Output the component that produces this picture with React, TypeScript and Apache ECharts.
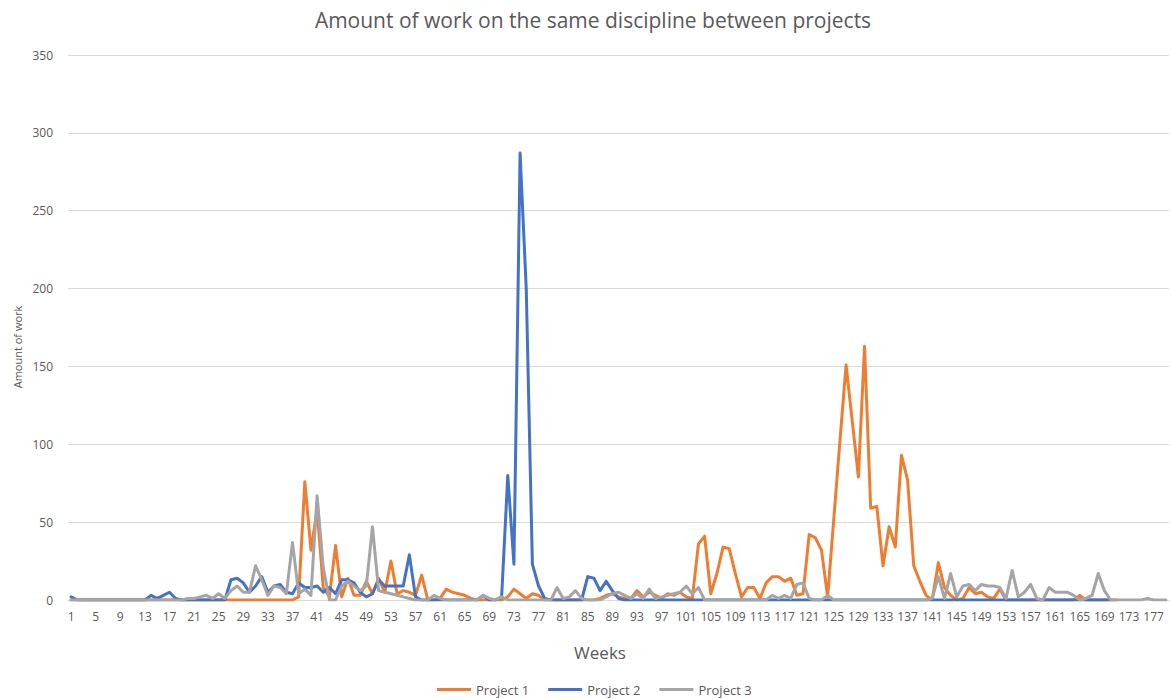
import React, { useEffect, useRef } from "react";
import * as echarts from "echarts";

const FONT = '"Open Sans", "Noto Sans", sans-serif';
const TITLE = "Amount of work on the same discipline between projects";
const X_NAME = "Weeks";
const Y_NAME = "Amount of work";
const SERIES_NAMES = ["Project 1", "Project 2", "Project 3"];
const COLORS = ["#ED7D31", "#4472C4", "#A5A5A5"];

// Week categories 1..179
const weeks: string[] = Array.from({ length: 179 }, (_, i) => String(i + 1));

const yTicks = { min: 0, max: 350, interval: 50 };

// Project 1 (orange)
const project1: (number | null)[] = [
  0, 0, 0, 0, 0, 0, 0, 0, 0, 0,
  0, 0, 0, 0, 0, 0, 0, 0, 0, 0,
  0, 0, 0, 0, 0, 0, 0, 0, 0, 0,
  0, 0, 0, 0, 0, 0, 0, 2, 76, 32,
  58, 8, 2, 35, 2, 14, 3, 3, 12, 4,
  14, 5, 25, 4, 6, 5, 3, 16, 0, 0,
  1, 7, 5, 4, 3, 1, 0, 0, 0, 0,
  0, 2, 7, 4, 1, 4, 3, 0, 0, 0,
  0, 0, 0, 0, 0, 0, 1, 3, 4, 2,
  1, 1, 6, 2, 5, 3, 1, 4, 3, 5,
  2, 1, 36, 41, 4, 17, 34, 33, 17, 2,
  8, 8, 1, 11, 15, 15, 12, 14, 3, 4,
  42, 40, 32, 2, 52, 102, 151, 115, 79, 163,
  59, 60, 22, 47, 34, 93, 77, 22, 12, 3,
  0, 24, 8, 3, 0, 1, 8, 4, 5, 2,
  1, 7, 0, 0, 0, 0, 0, 0, 0, 0,
  0, 0, 0, 0, 3, 0, 0, 0, 0, 0,
  0, null, null, null, null, null, null, null, null,
];

// Project 2 (blue)
const project2: (number | null)[] = [
  2, 0, 0, 0, 0, 0, 0, 0, 0, 0,
  0, 0, 0, 3, 1, 3, 5, 1, 0, 0,
  0, 0, 0, 0, 0, 0, 13, 14, 11, 5,
  9, 15, 5, 9, 10, 5, 4, 11, 8, 8,
  9, 5, 8, 4, 13, 13, 11, 5, 2, 4,
  13, 9, 9, 9, 9, 29, 2, 0, 0, 0,
  0, 0, 0, 0, 0, 0, 0, 3, 0, 0,
  2, 80, 23, 287, 200, 23, 9, 1, 0, 0,
  0, 0, 0, 0, 15, 14, 6, 12, 6, 1,
  0, 0, 0, 0, 0, 0, 0, 0, 0, 0,
  0, 0, 0, 0, 0, 0, 0, 0, 0, 0,
  0, 0, 0, 0, 0, 0, 0, 0, 0, 0,
  0, 0, 0, 0, 0, 0, 0, 0, 0, 0,
  0, 0, 0, 0, 0, 0, 0, 0, 0, 0,
  0, 0, 0, 0, 0, 0, 0, 0, 0, 0,
  0, 0, 0, 0, 0, 0, 0, 0, 0, 0,
  0, 0, 0, 0, 0, 0, 0, 0, 0, 0,
  null, null, null, null, null, null, null, null, null,
];

// Project 3 (grey)
const project3: (number | null)[] = [
  0, 0, 0, 0, 0, 0, 0, 0, 0, 0,
  0, 0, 0, 0, 0, 0, 0, 0, 0, 1,
  1, 2, 3, 1, 4, 1, 6, 9, 5, 5,
  22, 13, 3, 9, 8, 4, 37, 4, 7, 3,
  67, 21, 0, 0, 9, 12, 9, 6, 9, 47,
  6, 5, 4, 3, 2, 1, 0, 0, 0, 3,
  1, 0, 0, 0, 0, 0, 0, 3, 1, 0,
  2, 0, 0, 0, 0, 0, 0, 0, 0, 8,
  1, 2, 6, 1, 0, 0, 0, 2, 4, 5,
  3, 1, 4, 1, 7, 1, 2, 3, 4, 5,
  9, 4, 8, 0, 0, 0, 0, 0, 0, 0,
  0, 0, 0, 0, 3, 1, 3, 1, 10, 11,
  1, 0, 0, 3, 0, 0, 0, 0, 0, 0,
  0, 0, 0, 0, 0, 0, 0, 0, 0, 0,
  1, 15, 1, 17, 2, 9, 10, 6, 10, 9,
  9, 8, 1, 19, 2, 5, 10, 1, 0, 8,
  5, 5, 5, 3, 0, 1, 3, 17, 6, 0,
  0, 0, 0, 0, 0, 1, 0, 0, 0,
];

const seriesData = [project1, project2, project3];

const textStyleCentered = (text: string, size: number) => ({
  text,
  fill: "#595959",
  fontSize: size,
  fontFamily: FONT,
  align: "center",
  verticalAlign: "middle",
  textAlign: "center",
  textVerticalAlign: "middle",
});

export default function App() {
  const ref = useRef<HTMLDivElement>(null);

  useEffect(() => {
    if (!ref.current) return;
    const chart = echarts.init(ref.current, null, { renderer: "svg" });
    chart.setOption({
      animation: false,
      backgroundColor: "#ffffff",
      textStyle: { fontFamily: FONT },
      grid: {
        left: 68,
        right: 2,
        top: 55,
        bottom: 99,
        containLabel: false,
        outerBoundsMode: "none",
      },
      xAxis: {
        type: "category",
        data: weeks,
        boundaryGap: true,
        axisLine: { show: true, lineStyle: { color: "#D9D9D9", width: 1 } },
        axisTick: { show: false },
        axisLabel: {
          interval: 3,
          color: "#595959",
          fontSize: 12,
          margin: 10,
          fontFamily: FONT,
        },
        splitLine: { show: false },
      },
      yAxis: {
        type: "value",
        min: yTicks.min,
        max: yTicks.max,
        interval: yTicks.interval,
        axisLine: { show: false },
        axisTick: { show: false },
        axisLabel: { color: "#595959", fontSize: 12, margin: 15, fontFamily: FONT },
        splitLine: { lineStyle: { color: "#D9D9D9", width: 1 } },
      },
      legend: {
        data: SERIES_NAMES,
        left: 437,
        top: 683,
        padding: 0,
        icon: "rect",
        itemWidth: 34,
        itemHeight: 3,
        itemGap: 19,
        textStyle: { color: "#595959", fontSize: 13, fontFamily: FONT },
      },
      graphic: [
        { type: "text", x: 593, y: 20, style: textStyleCentered(TITLE, 21) },
        { type: "text", x: 600, y: 652, style: textStyleCentered(X_NAME, 17) },
        {
          type: "text",
          x: 17,
          y: 347,
          rotation: Math.PI / 2,
          style: textStyleCentered(Y_NAME, 11),
        },
      ],
      series: SERIES_NAMES.map((name, i) => ({
        name,
        type: "line",
        data: seriesData[i],
        showSymbol: false,
        symbol: "none",
        connectNulls: false,
        lineStyle: { width: 3, color: COLORS[i], join: "round", cap: "round" },
        itemStyle: { color: COLORS[i] },
      })),
    });
    return () => chart.dispose();
  }, []);

  return (
    <div
      ref={ref}
      style={{ position: "absolute", left: 0, top: 0, width: 1171, height: 699 }}
    />
  );
}
